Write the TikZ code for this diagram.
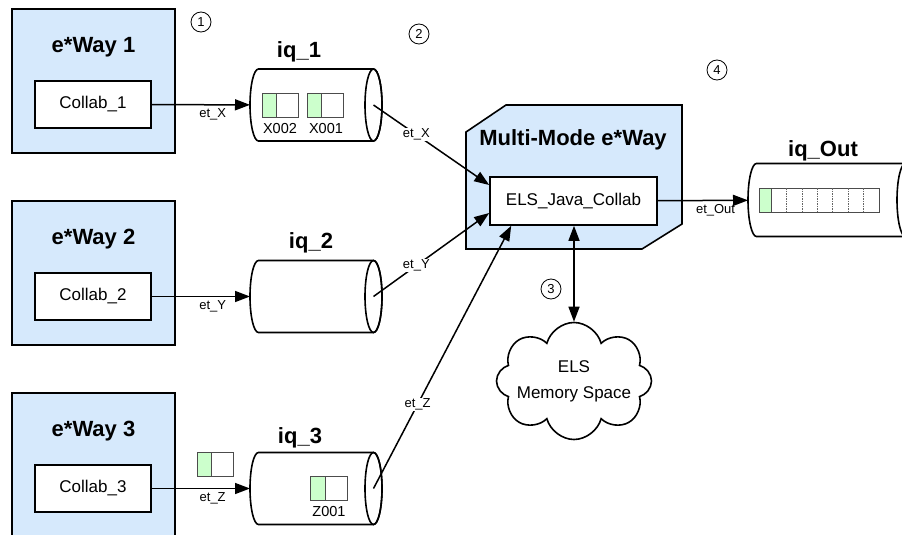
\documentclass[tikz,border=0pt]{standalone}
\usepackage{fontspec}
\setmainfont{Liberation Sans}
\usepackage{tikz}
\usetikzlibrary{shapes.symbols,arrows.meta,positioning,calc}

\definecolor{wayfill}{RGB}{214,233,252}
\definecolor{msgfill}{RGB}{204,255,204}

% lying cylinder drawn round a named (invisible) rectangle node; #2 = half height
\newcommand{\drawqueue}[2]{%
    \draw[line width=1.6pt, fill=white]
        ($(#1.north west)+(8.5,0)$) -- ($(#1.north east)+(-8.5,0)$)
        arc[start angle=90, end angle=-90, x radius=8.5pt, y radius=#2pt]
        -- ($(#1.south west)+(8.5,0)$)
        arc[start angle=270, end angle=90, x radius=8.5pt, y radius=#2pt]
        -- cycle;
    \draw[line width=1.6pt] ($(#1.east)+(-8.5,0)$) ellipse [x radius=8.5pt, y radius=#2pt];
}

\begin{document}
\begin{tikzpicture}[x=1pt, y=-1pt,
    waybox/.style={draw, line width=1.6pt, fill=wayfill, minimum width=163pt, minimum height=144pt},
    collab/.style={draw, line width=1.6pt, fill=white, minimum width=116pt, minimum height=47pt, font=\fontsize{17}{19}\selectfont},
    title/.style={inner sep=0pt, font=\fontsize{22}{24}\selectfont\bfseries},
    queue/.style={minimum width=132pt, minimum height=72pt, inner sep=0pt, outer sep=0pt, anchor=west},
    flow/.style={line width=1.5pt, -{Triangle[length=15pt,width=11pt]}},
    lbl/.style={font=\fontsize{13}{15}\selectfont, inner sep=1pt},
    cellg/.style={draw=black!70, line width=0.8pt, fill=msgfill, minimum width=14pt, minimum height=24pt, inner sep=0pt, outer sep=0pt},
    cellw/.style={draw=black!70, line width=0.8pt, fill=white, minimum width=22pt, minimum height=24pt, inner sep=0pt, outer sep=0pt},
    msglbl/.style={font=\fontsize{14.5}{16}\selectfont, inner sep=0pt},
    callout/.style={draw, circle, line width=0.8pt, minimum size=20pt, inner sep=0pt, font=\fontsize{13}{15}\selectfont}]
    \useasboundingbox (0,0) rectangle (902,535);
    \clip (0,0) rectangle (902,535);

    % Sending e*Ways with their collaborations
    \node[waybox] (way1) at (93.5,81) {};
    \node[waybox] (way2) at (93.5,273) {};
    \node[waybox] (way3) at (93.5,465) {};
    \node[title] at (93.5,47) {e*Way 1};
    \node[title] at (93.5,239) {e*Way 2};
    \node[title] at (93.5,431) {e*Way 3};
    \node[collab] (col1) at (93,104.5) {Collab\_1};
    \node[collab] (col2) at (93,296.5) {Collab\_2};
    \node[collab] (col3) at (93,488.5) {Collab\_3};

    % IQs
    \node[queue] (iq1) at (250,105) {};
    \node[queue] (iq2) at (250,296.5) {};
    \node[queue] (iq3) at (250,488.5) {};
    \drawqueue{iq1}{36}
    \drawqueue{iq2}{36}
    \drawqueue{iq3}{36}
    \node[title] at (299,52) {iq\_1};
    \node[title] at (311,243) {iq\_2};
    \node[title] at (300,438) {iq\_3};

    % Events waiting in the queues
    \node[cellg, anchor=west] (m1g) at (262,105) {};
    \node[cellw, right=0pt of m1g] (m1w) {};
    \node[cellg, anchor=west] (m2g) at (307,105) {};
    \node[cellw, right=0pt of m2g] (m2w) {};
    \node[msglbl] at (280,129) {X002};
    \node[msglbl] at (326,129) {X001};
    \node[cellg, anchor=west, minimum width=15pt] (m3g) at (310,488) {};
    \node[cellw, right=0pt of m3g] (m3w) {};
    \node[msglbl] at (329,512) {Z001};
    \node[cellg, anchor=west] (m4g) at (197,464) {};
    \node[cellw, right=0pt of m4g] (m4w) {};

    % Multi-Mode e*Way
    \draw[line width=1.6pt, fill=wayfill] (466,132) -- (506,105) -- (682,105) -- (682,224) -- (642,249) -- (466,249) -- cycle;
    \node[title] at (573,140) {Multi-Mode e*Way};
    \node[collab, minimum width=167pt, minimum height=48pt] (els) at (573.5,201) {ELS\_Java\_Collab};

    % Outbound IQ
    \node[queue, minimum width=166pt, minimum height=73pt] (iqout) at (748,200) {};
    \drawqueue{iqout}{36.5}
    \node[title] at (823,151) {iq\_Out};
    \node[cellg, anchor=west, minimum width=12pt] (og) at (759,200) {};
    \node[cellw, right=0pt of og, minimum width=108pt] (ow) {};
    \foreach \i in {1,...,6}
        \draw[black!60, line width=0.6pt, dash pattern=on 1.5pt off 1pt] ($(ow.north west)+(\i*15.4,0)$) -- ($(ow.south west)+(\i*15.4,0)$);

    % ELS memory
    \node[cloud, draw, line width=1.6pt, cloud puffs=8, cloud ignores aspect, minimum width=155pt, minimum height=117pt, inner sep=0pt] (mem) at (574,381) {};
    \node[align=center, font=\fontsize{17}{26}\selectfont] (memtxt) at (mem) {ELS\\Memory Space};

    % Collaborations publish into the IQs
    \draw[flow] (col1) -- node[lbl, below=2pt, pos=0.62] {et\_X} (iq1);
    \draw[flow] (col2) -- node[lbl, below=2pt, pos=0.62] {et\_Y} (iq2);
    \draw[flow] (col3) -- node[lbl, below=2pt, pos=0.62] {et\_Z} (iq3);

    % IQs feed the Java collaboration
    \coordinate (q1o) at ($(iq1.east)+(-8.5,0)$);
    \coordinate (q2o) at ($(iq2.east)+(-8.5,0)$);
    \coordinate (q3o) at ($(iq3.east)+(-8.5,0)$);
    \draw[flow] (q1o) -- node[lbl, fill=white, pos=0.37] {et\_X} ($(els.west)+(0,-16)$);
    \draw[flow] (q2o) -- node[lbl, fill=white, pos=0.37] {et\_Y} ($(els.west)+(0,12)$);
    \draw[flow] (q3o) -- node[lbl, fill=white, pos=0.32] {et\_Z} ($(els.south west)+(22,0)$);
    \draw[flow] (els) -- node[lbl, below=2pt, pos=0.64] {et\_Out} (iqout);
    \draw[line width=1.5pt, {Triangle[length=15pt,width=11pt]}-{Triangle[length=15pt,width=11pt]}] (mem.north |- els.south) -- (mem.north);

    % Step numbers
    \node[callout] (s1) at (201,22) {1};
    \node[callout] (s2) at (419,34) {2};
    \node[callout] (s3) at (551,289) {3};
    \node[callout] (s4) at (717,70) {4};
\end{tikzpicture}
\end{document}
